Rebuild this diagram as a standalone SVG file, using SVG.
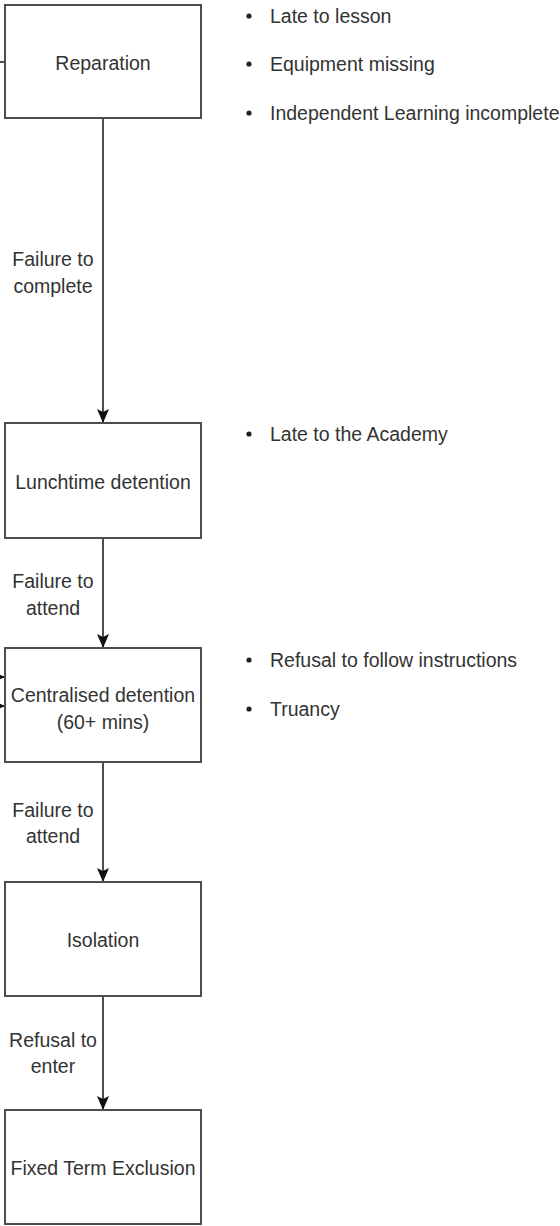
<svg xmlns="http://www.w3.org/2000/svg" width="560" height="1226" viewBox="0 0 560 1226">
<style>
.box{fill:#ffffff;stroke:#4d4d4d;stroke-width:2}
.edge{fill:none;stroke:#4d4d4d;stroke-width:2}
text{font-family:"Liberation Sans",Arial,sans-serif;font-size:19.5px;fill:#333333}
.c{text-anchor:middle}
.dot{fill:#222222}
</style>
<defs>
<marker id="arr" viewBox="0 0 14 12" refX="14" refY="6" markerWidth="14" markerHeight="12" markerUnits="userSpaceOnUse" orient="auto">
<path d="M0,0 L14,6 L0,12 L3,6 Z" fill="#111111"/>
</marker>
</defs>
<rect width="560" height="1226" fill="#ffffff"/>
<g id="connectors">
<path class="edge" d="M103,118 V423" marker-end="url(#arr)"/>
<path class="edge" d="M103,538 V648" marker-end="url(#arr)"/>
<path class="edge" d="M103,762 V882" marker-end="url(#arr)"/>
<path class="edge" d="M103,996 V1110" marker-end="url(#arr)"/>
<path class="edge" d="M-2,62 H5"/>
<path class="edge" d="M-20,677 H5" marker-end="url(#arr)"/>
<path class="edge" d="M-20,706 H5" marker-end="url(#arr)"/>
<text class="c" x="53" y="266">Failure to</text>
<text class="c" x="53" y="293">complete</text>
<text class="c" x="53" y="588">Failure to</text>
<text class="c" x="53" y="615">attend</text>
<text class="c" x="53" y="817">Failure to</text>
<text class="c" x="53" y="843">attend</text>
<text class="c" x="53" y="1047">Refusal to</text>
<text class="c" x="53" y="1073">enter</text>
</g>
<g id="reparation">
<rect class="box" x="5" y="5" width="196" height="113"/>
<text class="c" x="103" y="70">Reparation</text>
</g>
<g id="lunchtime">
<rect class="box" x="5" y="423" width="196" height="115"/>
<text class="c" x="103" y="489">Lunchtime detention</text>
</g>
<g id="centralised">
<rect class="box" x="5" y="648" width="196" height="114"/>
<text class="c" x="103" y="702">Centralised detention</text>
<text class="c" x="103" y="729">(60+ mins)</text>
</g>
<g id="isolation">
<rect class="box" x="5" y="882" width="196" height="114"/>
<text class="c" x="103" y="947">Isolation</text>
</g>
<g id="fixed-term">
<rect class="box" x="5" y="1110" width="196" height="114"/>
<text class="c" x="103" y="1175">Fixed Term Exclusion</text>
</g>
<g id="notes-reparation">
<circle class="dot" cx="249" cy="16" r="2.6"/>
<text x="270" y="23">Late to lesson</text>
<circle class="dot" cx="249" cy="64" r="2.6"/>
<text x="270" y="71">Equipment missing</text>
<circle class="dot" cx="249" cy="113" r="2.6"/>
<text x="270" y="120">Independent Learning incomplete</text>
</g>
<g id="notes-lunchtime">
<circle class="dot" cx="249" cy="434" r="2.6"/>
<text x="270" y="441">Late to the Academy</text>
</g>
<g id="notes-centralised">
<circle class="dot" cx="249" cy="660" r="2.6"/>
<text x="270" y="667">Refusal to follow instructions</text>
<circle class="dot" cx="249" cy="709" r="2.6"/>
<text x="270" y="716">Truancy</text>
</g>
</svg>
